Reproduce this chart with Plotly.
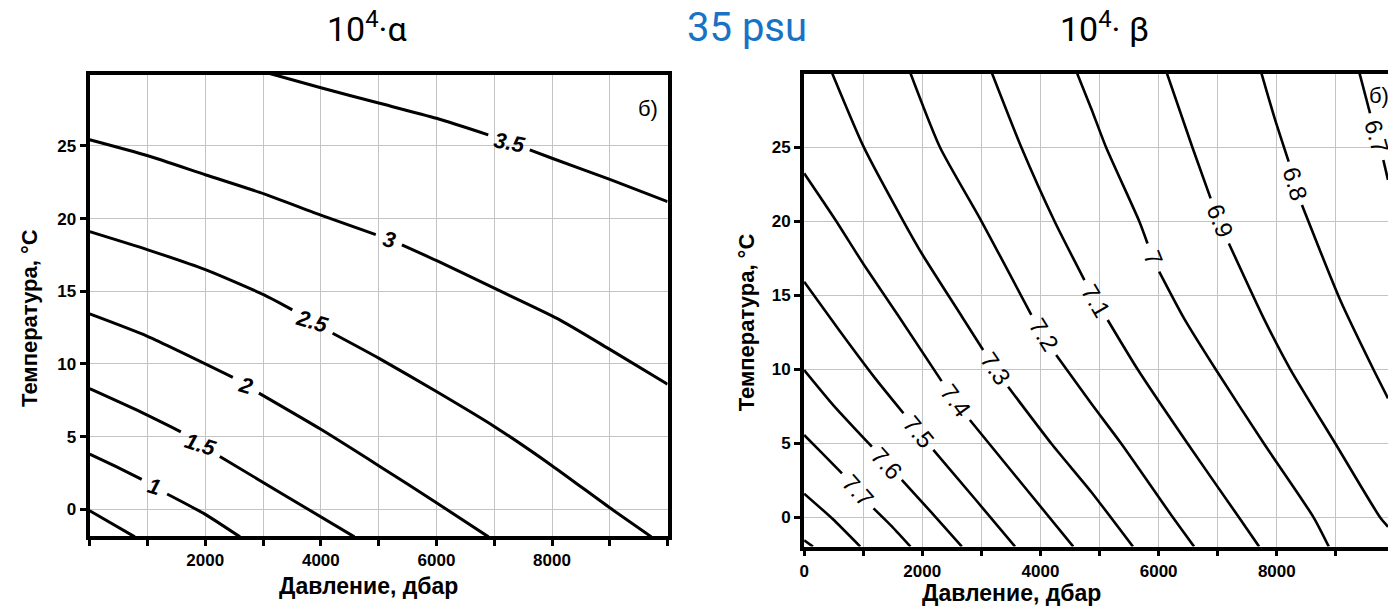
import math
import plotly.graph_objects as go

W, H = 1388, 610

# ---------------- data: alpha panel (pressure dbar, temperature degC) ----------------
A05_P = [0, 780]
A05_T = [-0.1, -1.9]
A10_P = [0, 450, 900, None, 1340, 2000, 2600]
A10_T = [3.8, 2.95, 2.06, None, 1.05, -0.35, -1.9]
A15_P = [0, 800, 1577, None, 2252, 3400, 4580]
A15_T = [8.3, 6.85, 5.33, None, 3.63, 0.9, -1.9]
A20_P = [0, 1000, 2477, None, 2928, 4000, 5000, 6000, 6900]
A20_T = [13.44, 11.9, 9.08, None, 7.99, 5.5, 3.0, 0.45, -1.9]
A25_P = [0, 1006, 2012, 3017, 3506, None, 4204, 5000, 6000, 7000, 8000, 9000, 9720]
A25_T = [19.1, 17.85, 16.47, 14.75, 13.72, None, 12.11, 10.4, 8.1, 5.7, 3.0, 0.1, -1.9]
A30_P = [0, 1006, 2012, 3017, 4023, 4950, None, 5402, 6006, 7000, 8103, 9000, 10000]
A30_T = [25.42, 24.32, 23.0, 21.7, 20.2, 18.9, None, 18.19, 17.1, 15.21, 13.1, 11.0, 8.6]
A35_P = [3100, 4000, 5000, 6000, 6897, None, 7615, 8000, 9000, 10000]
A35_T = [30.0, 29.0, 27.95, 26.9, 25.76, None, 24.73, 24.15, 22.7, 21.17]

ALPHA_LINES = [(A05_P, A05_T, None), (A10_P, A10_T, "1"), (A15_P, A15_T, "1.5"),
               (A20_P, A20_T, "2"), (A25_P, A25_T, "2.5"), (A30_P, A30_T, "3"),
               (A35_P, A35_T, "3.5")]

# ---------------- data: beta panel ----------------
B79_P = [0, 150]
B79_T = [-1.55, -1.98]
B78_P = [0, 480, 950]
B78_T = [1.6, -0.1, -1.98]
B77_P = [0, 300, 641, None, 1175, 1500, 1800]
B77_T = [5.56, 4.35, 2.97, None, 0.6, -0.68, -1.98]
B76_P = [0, 500, 1147, None, 1653, 2150, 2670]
B76_T = [9.95, 7.55, 4.77, None, 2.52, 0.35, -1.98]
B75_P = [0, 600, 1200, 1681, None, 2187, 2900, 3570]
B75_T = [15.92, 12.6, 9.4, 7.03, None, 4.55, 1.2, -1.98]
B74_P = [0, 528, 1006, 1597, 2327, None, 2805, 3700, 4555]
B74_T = [23.24, 20.1, 17.1, 13.6, 9.2, None, 6.57, 2.2, -1.98]
B73_P = [475, 1006, 1681, 2007, 2680, 3030, None, 3452, 4200, 4857, 5565]
B73_T = [30.0, 25.04, 20.0, 17.72, 13.5, 11.3, None, 8.82, 4.9, 1.73, -1.98]
B72_P = [1800, 2299, 3002, 3845, None, 4266, 4857, 5363, 6240, 6600]
B72_T = [30.0, 25.0, 20.0, 13.68, None, 10.97, 7.7, 5.0, 0.0, -1.98]
B71_P = [3180, 3676, 4238, 4744, None, 5138, 5644, 6487, 7358, 7700]
B71_T = [30.0, 25.0, 20.0, 16.03, None, 13.33, 10.0, 5.0, 0.0, -1.98]
B70_P = [4620, 4857, 5110, 5672, 5812, None, 6009, 6430, 6965, 7779, 8622, 8880]
B70_T = [30.0, 27.64, 25.0, 20.0, 18.5, None, 16.6, 13.44, 10.0, 5.0, 0.0, -1.98]
B69_P = [6140, 6571, 6880, None, 7189, 7779, 8229, 8988, 9747, 9882]
B69_T = [30.0, 25.0, 21.55, None, 18.5, 13.44, 10.0, 5.0, 0.0, -0.64]
B68_P = [7740, 7960, 8201, None, 8426, 9073, 9634, 9882]
B68_T = [30.0, 27.0, 24.03, None, 21.1, 14.68, 10.0, 8.04]
B67_P = [9400, 9578, None, 9803, 9882]
B67_T = [30.0, 27.3, None, 24.14, 22.8]

BETA_LINES = [(B79_P, B79_T, None), (B78_P, B78_T, None), (B77_P, B77_T, "7.7"),
              (B76_P, B76_T, "7.6"), (B75_P, B75_T, "7.5"), (B74_P, B74_T, "7.4"),
              (B73_P, B73_T, "7.3"), (B72_P, B72_T, "7.2"), (B71_P, B71_T, "7.1"),
              (B70_P, B70_T, "7"), (B69_P, B69_T, "6.9"), (B68_P, B68_T, "6.8"),
              (B67_P, B67_T, "6.7")]

# axis ticks
X_TICKS = list(range(0, 10001, 1000))
A_XLABELS = ["", "", "2000", "", "4000", "", "6000", "", "8000", "", ""]
B_XLABELS = ["0", "", "2000", "", "4000", "", "6000", "", "8000", "", ""]
Y_TICKS = [0, 5, 10, 15, 20, 25]

# ---------------- layout geometry (pixels) ----------------
A_X0, A_X1, A_Y0, A_Y1 = 85, 665, 74.7, 536
B_X0, B_X1, B_Y0, B_Y1 = 802, 1388, 74, 546.6
A_XR, A_YR = [0, 10000], [-1.84, 29.9]
B_XR, B_YR = [0, 9882], [-1.98, 29.95]

def dom_x(a, b):
    return [a / W, b / W]

def dom_y(top, bottom):
    return [1 - bottom / H, 1 - top / H]

FONT = "Liberation Sans, Arial, sans-serif"
fig = go.Figure()
annotations = []

def add_lines(lines, xa, ya, xr, yr, px0, px1, py0, py1, italic, bold, size,
              angle_scale, width):
    sx = (px1 - px0) / (xr[1] - xr[0])
    sy = (py1 - py0) / (yr[1] - yr[0])
    for P, T, lab in lines:
        fig.add_trace(go.Scatter(x=P, y=T, mode="lines", xaxis=xa, yaxis=ya,
                                 line=dict(color="black", width=width, shape="spline",
                                           smoothing=0.6),
                                 connectgaps=False, hoverinfo="skip", showlegend=False))
        if lab is None:
            continue
        i = P.index(None)
        p1, t1, p2, t2 = P[i - 1], T[i - 1], P[i + 1], T[i + 1]
        ang = math.degrees(math.atan2(-(t2 - t1) * sy, (p2 - p1) * sx)) * angle_scale
        annotations.append(dict(
            x=(p1 + p2) / 2, y=(t1 + t2) / 2, xref=xa, yref=ya, text=lab,
            showarrow=False, textangle=ang,
            font=dict(family=FONT, size=size, color="black",
                      weight="bold" if bold else "normal",
                      style="italic" if italic else "normal")))

add_lines(ALPHA_LINES, "x", "y", A_XR, A_YR, A_X0, A_X1, A_Y0, A_Y1,
          True, True, 22, 0.55, 3)
add_lines(BETA_LINES, "x2", "y2", B_XR, B_YR, B_X0, B_X1, B_Y0, B_Y1,
          False, False, 24, 1.0, 2.6)

axis_common = dict(showgrid=True, gridcolor="#c4c4c4", gridwidth=1, zeroline=False,
                   showline=True, linecolor="black", ticks="outside", tickcolor="black",
                   tickwidth=2.5, ticklen=6,
                   tickfont=dict(family=FONT, size=17, color="black", weight="bold"))

fig.update_layout(
    width=W, height=H, margin=dict(l=0, r=0, t=0, b=0),
    paper_bgcolor="white", plot_bgcolor="white",
    xaxis=dict(domain=dom_x(A_X0, A_X1), range=A_XR, anchor="y", tickmode="array",
               tickvals=X_TICKS, ticktext=A_XLABELS, mirror=True, linewidth=3.5,
               **axis_common),
    yaxis=dict(domain=dom_y(A_Y0, A_Y1), range=A_YR, anchor="x", tickmode="array",
               tickvals=Y_TICKS, mirror=True, linewidth=4, **axis_common),
    xaxis2=dict(domain=dom_x(B_X0, B_X1), range=B_XR, anchor="y2", tickmode="array",
                tickvals=X_TICKS, ticktext=B_XLABELS, mirror=True, linewidth=3.5,
                **axis_common),
    yaxis2=dict(domain=dom_y(B_Y0, B_Y1), range=B_YR, anchor="x2", tickmode="array",
                tickvals=Y_TICKS, mirror=False, linewidth=4, **axis_common),
)

def paper_text(x, y, text, size, color="black", bold=False, angle=0, xanchor="center", family=FONT):
    annotations.append(dict(x=x / W, y=1 - y / H, xref="paper", yref="paper", text=text,
                            showarrow=False, textangle=angle, xanchor=xanchor, yanchor="middle",
                            font=dict(family=family, size=size, color=color,
                                      weight="bold" if bold else "normal")))

TITLE_FONT = "Liberation Sans Narrow, Roboto, Liberation Sans, sans-serif"
paper_text(363, 27, "10<sup>4</sup>·α", 34, family=TITLE_FONT)
paper_text(745, 27, "35 psu", 40, color="#1a72c4", family=TITLE_FONT)
paper_text(1103, 27, "10<sup>4</sup>· β", 34, family=TITLE_FONT)

paper_text(365, 586, "Давление, дбар", 23, bold=True)
paper_text(1010, 593, "Давление, дбар", 23, bold=True)
paper_text(24, 318, "Температура, °С", 22, bold=True, angle=-90)
paper_text(744, 322, "Температура, °С", 22, bold=True, angle=-90)

paper_text(645, 108, "б)", 22)
paper_text(1367, 95, "б)", 22, xanchor="left")

fig.update_layout(annotations=annotations)
fig.write_html("out.html")
